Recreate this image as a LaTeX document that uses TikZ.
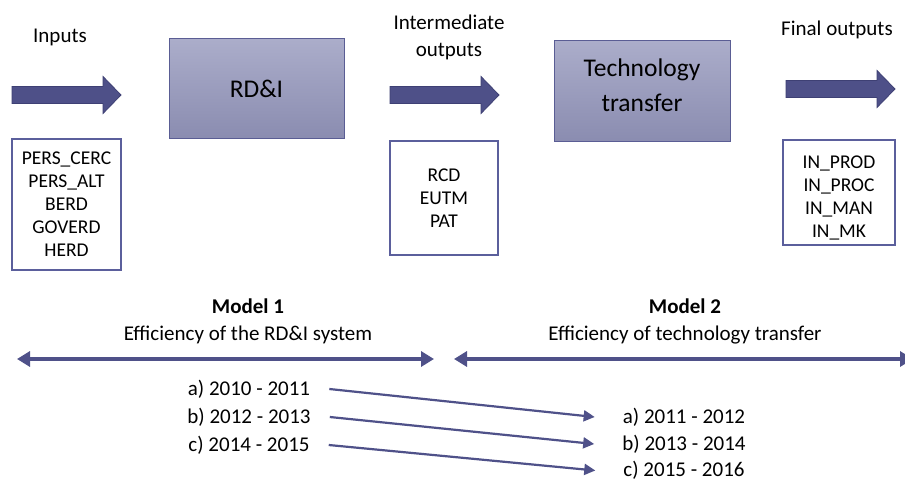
\documentclass[tikz,border=0pt]{standalone}
\usepackage{fontspec}
\setmainfont{Carlito}
\usetikzlibrary{arrows.meta}

\definecolor{arrowfill}{HTML}{4E5088}
\definecolor{arrowedge}{HTML}{3E4074}
\definecolor{boxtop}{HTML}{ABADCA}
\definecolor{boxbot}{HTML}{8A8CB0}
\definecolor{boxedge}{HTML}{5A5D94}
\definecolor{listedge}{HTML}{5B5F9C}
\definecolor{linecol}{HTML}{4F5189}

\tikzset{
  % wide block arrow pointing right, origin at the left end of the shaft
  blockarrow/.pic={
    \filldraw[fill=arrowfill,draw=arrowedge,line width=0.8pt]
      (0,-8.5) -- (91,-8.5) -- (91,-18.5) -- (109,0) -- (91,18.5) -- (91,8.5) -- (0,8.5) -- cycle;
  },
  procbox/.style={draw=boxedge,line width=1pt,top color=boxtop,bottom color=boxbot,
    align=center,font=\fontsize{25.5}{35}\selectfont,inner sep=0pt},
  proctext/.style={align=center,font=\fontsize{25.5}{35}\selectfont,inner sep=0pt},
  listbox/.style={draw=listedge,line width=1.6pt,fill=white,align=center,
    font=\fontsize{19.5}{23}\selectfont,inner sep=0pt},
  listtext/.style={align=center,font=\fontsize{19.5}{23}\selectfont,inner sep=0pt},
  label/.style={align=center,font=\fontsize{21}{27}\selectfont,inner sep=0pt},
  datelabel/.style={font=\fontsize{21}{25}\selectfont,inner sep=0pt},
  span/.style={draw=linecol,line width=4pt,{Triangle[length=13pt,width=15pt]}-{Triangle[length=13pt,width=15pt]}},
  datearrow/.style={draw=linecol,line width=2.2pt,-{Triangle[length=11pt,width=11pt]}},
}

\begin{document}
\begin{tikzpicture}[x=1pt,y=-1pt]
\clip (0,0) rectangle (905,481);
\fill[white] (0,0) rectangle (905,481);

% top row: labels, block arrows and process boxes
\node[label] (inlab) at (60,37) {Inputs};
\node[label] (midlab) at (449,37) {Intermediate\\outputs};
\node[label] (finlab) at (837,30) {Final outputs};

\pic at (12,95) {blockarrow};
\pic at (390,95) {blockarrow};
\pic at (786,89) {blockarrow};

\node[procbox,minimum width=175pt,minimum height=100pt] (rdi) at (256.5,89) {RD\&I};
\node[procbox,minimum width=176pt,minimum height=101pt] (tt) at (642,91.5) {};
\node[proctext] (tttext) at ([yshift=6pt]tt.center) {Technology\\transfer};

% indicator lists
\node[listbox,minimum width=109pt,minimum height=131pt] (inputs) at (66.5,204.5)
  {PERS\_CERC\\PERS\_ALT\\BERD\\GOVERD\\HERD};
\node[listbox,minimum width=108pt,minimum height=114pt] (inter) at (444,198)
  {RCD\\EUTM\\PAT};
\node[listbox,minimum width=112pt,minimum height=105pt] (final) at (839,192.5) {};
\node[listtext] (finaltext) at ([yshift=-5pt]final.center)
  {IN\_PROD\\IN\_PROC\\IN\_MAN\\IN\_MK};

% the two models and their spans
\node[label] (m1) at (248,321.5) {\textbf{Model 1}\\Efficiency of the RD\&I system};
\node[label] (m2) at (685,321.5) {\textbf{Model 2}\\Efficiency of technology transfer};

\coordinate (s1l) at (17,359);
\coordinate (s1r) at (434,359);
\coordinate (s2l) at (454,359);
\coordinate (s2r) at (913,359);
\draw[span] (s1l) -- (s1r);
\draw[span] (s2l) -- (s2r);

% periods of model 1 mapped to the periods of model 2
\node[datelabel] (la) at (249,389) {a) 2010 - 2011};
\node[datelabel] (lb) at (249,417) {b) 2012 - 2013};
\node[datelabel] (lc) at (249,445) {c) 2014 - 2015};
\node[datelabel] (ra) at (684,417) {a) 2011 - 2012};
\node[datelabel] (rb) at (684,444) {b) 2013 - 2014};
\node[datelabel] (rc) at (684,470.5) {c) 2015 - 2016};

\draw[datearrow] ([xshift=19pt]la.east) -- ([xshift=-28pt]ra.west);
\draw[datearrow] ([xshift=19pt]lb.east) -- ([xshift=-28pt]rb.west);
\draw[datearrow] ([xshift=19pt]lc.east) -- ([xshift=-28pt]rc.west);
\end{tikzpicture}
\end{document}
